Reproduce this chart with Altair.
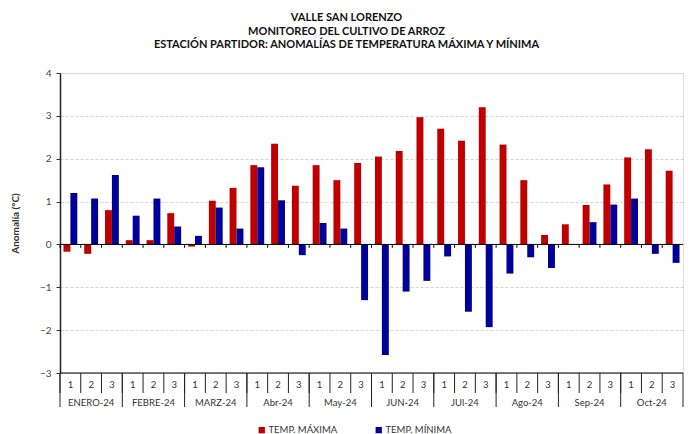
import altair as alt
import pandas as pd

months = ["ENERO-24", "FEBRE-24", "MARZ-24", "Abr-24", "May-24",
          "JUN-24", "JUl-24", "Ago-24", "Sep-24", "Oct-24"]
dekads = ["1", "2", "3"]
tmax = [-0.17, -0.22, 0.80,  0.10, 0.10, 0.73,  -0.05, 1.02, 1.32,
        1.85, 2.35, 1.37,  1.85, 1.50, 1.90,  2.05, 2.18, 2.97,
        2.70, 2.42, 3.20,  2.33, 1.50, 0.22,  0.47, 0.92, 1.40,
        2.03, 2.22, 1.72]
tmin = [1.20, 1.07, 1.62,  0.67, 1.07, 0.42,  0.20, 0.86, 0.37,
        1.80, 1.03, -0.25,  0.50, 0.37, -1.30,  -2.58, -1.10, -0.85,
        -0.28, -1.57, -1.93,  -0.68, -0.30, -0.55,  None, 0.52, 0.93,
        1.07, -0.22, -0.43]
series_names = ["TEMP. MÁXIMA", "TEMP. MÍNIMA"]
series_colors = ["#C00000", "#000099"]
y_ticks = [-3, -2, -1, 0, 1, 2, 3, 4]
zero_line = [0]
title_lines = ["VALLE SAN LORENZO", "MONITOREO DEL CULTIVO DE ARROZ",
               "ESTACIÓN PARTIDOR: ANOMALÍAS DE TEMPERATURA MÁXIMA Y MÍNIMA"]

FONT = "Lato"
W, H = 623, 300

keys = [f"{m}|{d}" for m in months for d in dekads]
rows = []
for i, k in enumerate(keys):
    rows.append({"key": k, "serie": series_names[0], "value": tmax[i]})
    if tmin[i] is not None:
        rows.append({"key": k, "serie": series_names[1], "value": tmin[i]})
bars_df = pd.DataFrame(rows)
cat_df = pd.DataFrame({
    "key": keys,
    "month": [m for m in months for d in dekads],
    "dekad": [d for m in months for d in dekads],
})
zero_df = pd.DataFrame({"v": zero_line})

xscale = alt.Scale(domain=keys, paddingInner=0, paddingOuter=0)
yscale = alt.Scale(domain=[y_ticks[0], y_ticks[-1]], nice=False, zero=False)

bars = alt.Chart(bars_df).mark_bar().encode(
    x=alt.X("key:N", scale=xscale, axis=None, sort=keys),
    xOffset=alt.XOffset("serie:N", sort=series_names,
                        scale=alt.Scale(domain=series_names, paddingOuter=0.5, paddingInner=0)),
    y=alt.Y("value:Q", scale=yscale,
            axis=alt.Axis(values=y_ticks, format="d", title="Anomalía (°C)",
                          titleFont=FONT, titleFontSize=10, titleFontWeight="bold",
                          titleColor="#333", titleX=-40, titleY=H / 2,
                          labelFont=FONT, labelFontSize=10, labelColor="#444",
                          labelPadding=5, tickSize=4, tickColor="#333",
                          domainColor="#222", domainWidth=1.5,
                          grid=True, gridColor="#d4d4d4", gridDash=[3, 2])),
    color=alt.Color("serie:N", scale=alt.Scale(domain=series_names, range=series_colors),
                    legend=alt.Legend(title=None, orient="none", direction="horizontal",
                                      legendX=197, legendY=352, symbolType="square",
                                      symbolSize=40, symbolStrokeWidth=0,
                                      labelFont=FONT, labelFontSize=9.5, labelColor="#333",
                                      columnPadding=36, labelOffset=2)),
)

zero = alt.Chart(zero_df).mark_rule(color="black", strokeWidth=1).encode(
    y=alt.Y("v:Q", scale=yscale), x=alt.value(0), x2=alt.value(W))

zero_ticks = alt.Chart(cat_df).mark_rule(color="black", strokeWidth=1).encode(
    x=alt.X("key:N", scale=xscale, bandPosition=0, sort=keys),
    y=alt.datum(0, scale=yscale), y2=alt.datum(-0.08))

bottom_line = alt.Chart(zero_df).mark_rule(color="black", strokeWidth=1.2).encode(
    y=alt.value(H), x=alt.value(0), x2=alt.value(W))

dek_sep = alt.Chart(cat_df).mark_rule(color="#222", strokeWidth=1).encode(
    x=alt.X("key:N", scale=xscale, bandPosition=0, sort=keys),
    y=alt.value(H), y2=alt.value(H + 20))

mon_sep = alt.Chart(cat_df).transform_filter(alt.datum.dekad == "1").mark_rule(
    color="#222", strokeWidth=1).encode(
    x=alt.X("key:N", scale=xscale, bandPosition=0, sort=keys),
    y=alt.value(H), y2=alt.value(H + 34))

right_edge = alt.Chart(zero_df).mark_rule(color="#222", strokeWidth=1).encode(
    x=alt.value(W), y=alt.value(H), y2=alt.value(H + 34))

dek_text = alt.Chart(cat_df).mark_text(font=FONT, fontSize=9.5, color="#333").encode(
    x=alt.X("key:N", scale=xscale, sort=keys), y=alt.value(H + 12), text="dekad:N")

mon_text = alt.Chart(cat_df).transform_filter(alt.datum.dekad == "2").mark_text(
    font=FONT, fontSize=9.5, color="#333").encode(
    x=alt.X("key:N", scale=xscale, sort=keys), y=alt.value(H + 30), text="month:N")

chart = alt.layer(bars, zero, zero_ticks, bottom_line, dek_sep, mon_sep, right_edge,
                  dek_text, mon_text).properties(
    width=W, height=H,
    title=alt.TitleParams(title_lines, anchor="middle", font=FONT, fontSize=11,
                          fontWeight="bold", color="#111", lineHeight=13.5,
                          offset=18, dx=-25),
    autosize=alt.AutoSizeParams(type="none"),
    padding={"left": 52, "top": 65, "right": 1, "bottom": 61},
).configure_view(stroke="#888", strokeWidth=1.5).configure(background="white")

chart.save("out.html", embed_options={"renderer": "svg", "actions": False})
